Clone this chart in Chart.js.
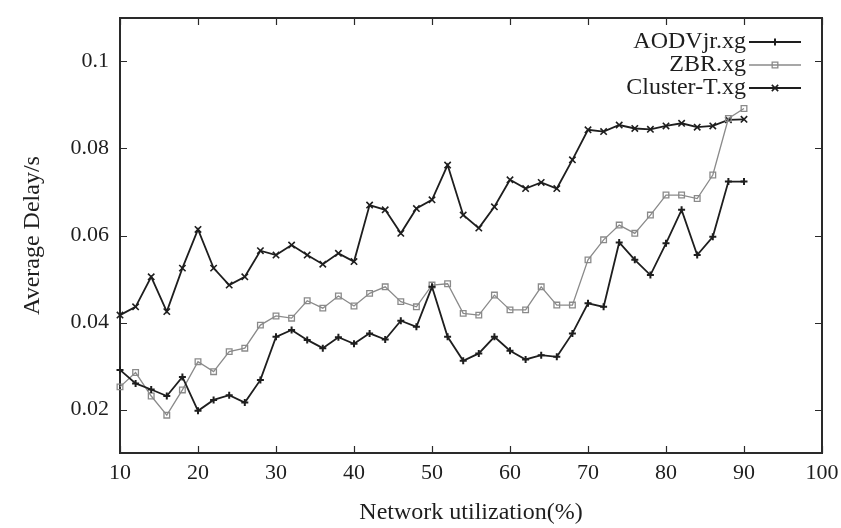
<!DOCTYPE html>
<html>
<head>
<meta charset="utf-8">
<title>Average Delay vs Network utilization</title>
<script src="https://cdn.jsdelivr.net/npm/chart.js@4.4.0/dist/chart.umd.min.js"></script>
<style>
  html, body { margin: 0; padding: 0; background: #fff; }
  #wrap { width: 841px; height: 528px; }
</style>
</head>
<body>
<div id="wrap"><canvas id="delayChart" width="841" height="528"></canvas></div>
<script>
// network utilization (%), one sample every 2%
var utilization = [10, 12, 14, 16, 18, 20, 22, 24, 26, 28, 30, 32, 34, 36, 38, 40, 42, 44, 46, 48, 50,
	52, 54, 56, 58, 60, 62, 64, 66, 68, 70, 72, 74, 76, 78, 80, 82, 84, 86, 88, 90];

// average delay (s)
var aodvjrDelay = [0.0291, 0.0260, 0.0246, 0.0231, 0.0275, 0.0197, 0.0222, 0.0233, 0.0216, 0.0268, 0.0367,
	0.0383, 0.0360, 0.0341, 0.0366, 0.0351, 0.0375, 0.0361, 0.0404, 0.0390, 0.0482,
	0.0367, 0.0312, 0.0329, 0.0367, 0.0335, 0.0315, 0.0325, 0.0321, 0.0375, 0.0444,
	0.0436, 0.0584, 0.0544, 0.0509, 0.0582, 0.0659, 0.0555, 0.0597, 0.0724, 0.0724];
var zbrDelay = [0.0252, 0.0285, 0.0231, 0.0187, 0.0245, 0.0310, 0.0287, 0.0333, 0.0341, 0.0394, 0.0415,
	0.0410, 0.0450, 0.0433, 0.0461, 0.0438, 0.0467, 0.0482, 0.0448, 0.0436, 0.0486,
	0.0489, 0.0421, 0.0417, 0.0463, 0.0429, 0.0429, 0.0482, 0.0440, 0.0440, 0.0544,
	0.0590, 0.0624, 0.0605, 0.0647, 0.0693, 0.0693, 0.0685, 0.0739, 0.0869, 0.0892];
var clusterTDelay = [0.0417, 0.0436, 0.0505, 0.0425, 0.0525, 0.0614, 0.0525, 0.0486, 0.0505, 0.0565, 0.0555,
	0.0578, 0.0555, 0.0534, 0.0559, 0.0540, 0.0670, 0.0659, 0.0605, 0.0662, 0.0682,
	0.0762, 0.0647, 0.0617, 0.0666, 0.0728, 0.0708, 0.0722, 0.0708, 0.0774, 0.0843,
	0.0839, 0.0854, 0.0846, 0.0844, 0.0852, 0.0858, 0.0849, 0.0852, 0.0866, 0.0867];

var seriesNames = ["AODVjr.xg", "ZBR.xg", "Cluster-T.xg"];
var xTickLabels = [10, 20, 30, 40, 50, 60, 70, 80, 90, 100];
var yTickLabels = [0.02, 0.04, 0.06, 0.08, 0.1];

var serif = "'Liberation Serif', 'DejaVu Serif', serif";
var inkColor = "#1e1e1e";

function toPoints(values) {
	return utilization.map(function (x, i) { return { x: x, y: values[i] }; });
}

// box round the plot with small inward ticks on all four sides
var framePlugin = {
	id: "frame",
	beforeDatasetsDraw: function (chart) {
		var ctx = chart.ctx, a = chart.chartArea;
		var xs = chart.scales.x, ys = chart.scales.y;
		ctx.save();
		ctx.strokeStyle = "#2a2a2a";
		ctx.lineWidth = 1.2;
		ctx.beginPath();
		xTickLabels.forEach(function (v) {
			var px = Math.round(xs.getPixelForValue(v)) + 0.5;
			ctx.moveTo(px, a.bottom); ctx.lineTo(px, a.bottom - 7);
			ctx.moveTo(px, a.top); ctx.lineTo(px, a.top + 7);
		});
		yTickLabels.forEach(function (v) {
			var py = Math.round(ys.getPixelForValue(v)) + 0.5;
			ctx.moveTo(a.left, py); ctx.lineTo(a.left + 7, py);
			ctx.moveTo(a.right, py); ctx.lineTo(a.right - 7, py);
		});
		ctx.stroke();
		ctx.lineWidth = 2;
		ctx.strokeRect(a.left, a.top, a.right - a.left, a.bottom - a.top);
		ctx.restore();
	}
};

// gnuplot style key: name on the left, line sample on the right
var keyPlugin = {
	id: "gnuKey",
	afterDraw: function (chart) {
		var ctx = chart.ctx, a = chart.chartArea;
		var textRight = a.right - 76;
		ctx.save();
		ctx.font = "24px " + serif;
		ctx.textAlign = "right";
		ctx.textBaseline = "middle";
		chart.data.datasets.forEach(function (ds, i) {
			var y = a.top + 24 + i * 23;
			ctx.fillStyle = inkColor;
			ctx.fillText(ds.label, textRight, y);
			ctx.strokeStyle = ds.borderColor;
			ctx.lineWidth = ds.borderWidth;
			ctx.beginPath();
			ctx.moveTo(textRight + 3, y);
			ctx.lineTo(textRight + 55, y);
			ctx.stroke();
			ctx.fillStyle = ds.pointBackgroundColor;
			ctx.strokeStyle = ds.pointBorderColor;
			ctx.lineWidth = ds.pointBorderWidth;
			Chart.helpers.drawPoint(ctx, {
				pointStyle: ds.pointStyle, radius: ds.pointRadius,
				borderWidth: ds.pointBorderWidth, rotation: 0
			}, textRight + 29, y);
		});
		ctx.restore();
	}
};

var delayChart = new Chart(document.getElementById("delayChart"), {
	type: "line",
	data: {
		datasets: [
			{
				label: seriesNames[0],
				data: toPoints(aodvjrDelay),
				borderColor: inkColor,
				borderWidth: 1.8,
				pointStyle: "cross",
				pointRadius: 3.5,
				pointBorderWidth: 2,
				pointBorderColor: inkColor,
				pointBackgroundColor: inkColor,
				tension: 0,
				clip: false
			},
			{
				label: seriesNames[1],
				data: toPoints(zbrDelay),
				borderColor: "#8a8a8a",
				borderWidth: 1.3,
				pointStyle: "rect",
				pointRadius: 4,
				pointBorderWidth: 1.3,
				pointBorderColor: "#8a8a8a",
				pointBackgroundColor: "rgba(255,255,255,0)",
				tension: 0,
				clip: false
			},
			{
				label: seriesNames[2],
				data: toPoints(clusterTDelay),
				borderColor: inkColor,
				borderWidth: 1.8,
				pointStyle: "crossRot",
				pointRadius: 4.5,
				pointBorderWidth: 1.6,
				pointBorderColor: inkColor,
				pointBackgroundColor: inkColor,
				tension: 0,
				clip: false
			}
		]
	},
	options: {
		responsive: false,
		animation: false,
		devicePixelRatio: 1,
		layout: { padding: { left: 0, right: 19, top: 18, bottom: 0 } },
		plugins: {
			legend: { display: false },
			tooltip: { enabled: false }
		},
		scales: {
			x: {
				type: "linear",
				min: 10,
				max: 100,
				grid: { display: false, drawTicks: false },
				border: { display: false },
				afterBuildTicks: function (scale) {
					scale.ticks = xTickLabels.map(function (v) { return { value: v }; });
				},
				afterFit: function (scale) {
					scale.height = 75;
					scale.paddingLeft = 0;
					scale.paddingRight = 0;
				},
				ticks: {
					color: inkColor,
					font: { family: serif, size: 22 },
					padding: 7,
					maxRotation: 0,
					autoSkip: false
				},
				title: {
					display: true,
					text: "Network utilization(%)",
					color: inkColor,
					font: { family: serif, size: 24 },
					padding: { top: 0, bottom: 1 }
				}
			},
			y: {
				type: "linear",
				min: 0.01,
				max: 0.11,
				grid: { display: false, drawTicks: false },
				border: { display: false },
				afterBuildTicks: function (scale) {
					scale.ticks = yTickLabels.map(function (v) { return { value: v }; });
				},
				afterFit: function (scale) {
					scale.width = 120;
					scale.paddingTop = 0;
					scale.paddingBottom = 0;
				},
				ticks: {
					color: inkColor,
					font: { family: serif, size: 22 },
					padding: 11,
					callback: function (value) { return String(value); }
				},
				title: {
					display: true,
					text: "Average Delay/s",
					color: inkColor,
					font: { family: serif, size: 24 },
					padding: { top: 18, bottom: 0 }
				}
			}
		}
	},
	plugins: [framePlugin, keyPlugin]
});
</script>
</body>
</html>
